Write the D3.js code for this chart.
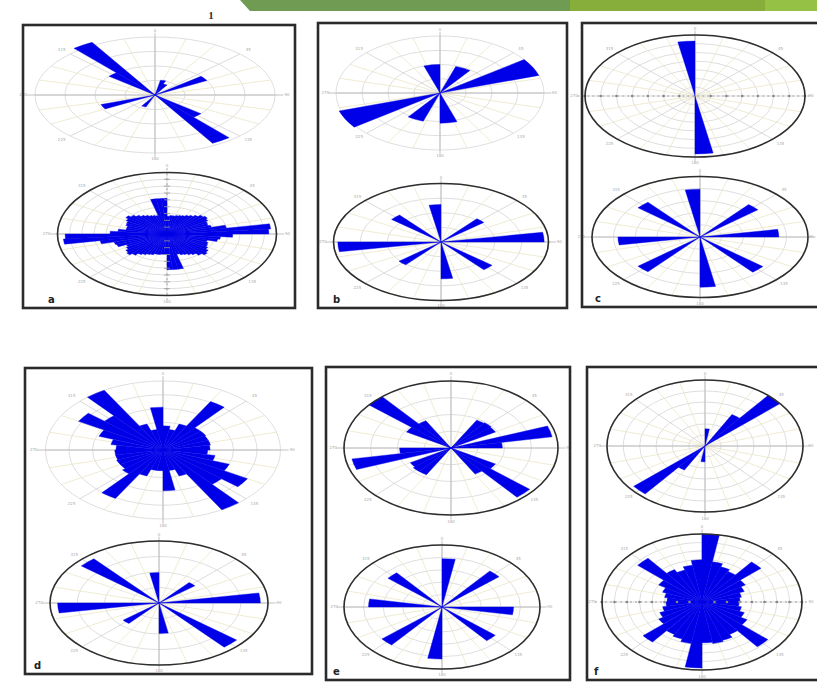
<!DOCTYPE html>
<html>
<head>
<meta charset="utf-8">
<script src="https://cdn.jsdelivr.net/npm/d3@7"></script>
<style>
  body { margin: 0; background: #fff; }
  svg { display: block; }
</style>
</head>
<body>
<div id="chart"></div>
<script>
// rose histograms: values per bin, bins run clockwise from north,
// bin width = 360 / length. 1 = outer grid ring.
const aTop = [0, 0.26, 0.2, 0, 0, 0.5, 0, 0, 0, 0, 0, 0, 0, 0.5, 0.96, 0, 0, 0,
              0, 0, 0.22, 0, 0, 0, 0.48, 0, 0, 0, 0, 0, 0, 0.5, 1.05, 0, 0, 0];
const aBottom = [0.29, 0.30, 0.30, 0.31, 0.32, 0.33, 0.35, 0.37, 0.40, 0.43, 0.45, 0.43,
                 0.41, 0.40, 0.42, 0.55, 0.95, 0.93, 0.60, 0.49, 0.47, 0.38, 0.40, 0.41,
                 0.43, 0.46, 0.48, 0.45, 0.41, 0.39, 0.37, 0.36, 0.34, 0.58, 0.58, 0.58,
                 0.33, 0.33, 0.34, 0.34, 0.36, 0.37, 0.39, 0.41, 0.45, 0.48, 0.46, 0.43,
                 0.41, 0.49, 0.50, 0.62, 0.95, 0.93, 0.52, 0.45, 0.38, 0.38, 0.40, 0.41,
                 0.43, 0.46, 0.43, 0.40, 0.37, 0.35, 0.33, 0.32, 0.31, 0.58, 0.58, 0.58];
const bTop = [0, 0.49, 0, 1.0, 0, 0, 0, 0, 0, 0.53, 0, 0.52, 0, 1.02, 0, 0, 0, 0, 0, 0.5];
const bBottom = [0, 0, 0, 0, 0.52, 0, 0, 0, 0.96, 0, 0, 0, 0, 0.62, 0, 0, 0, 0.63,
                 0, 0, 0, 0, 0.51, 0, 0, 0, 0.96, 0, 0, 0, 0, 0.6, 0, 0, 0, 0.64];
const cTop = [0, 0, 0, 0, 0, 0, 0, 0, 0, 0, 0, 0, 0, 0, 0, 0, 0, 0.95,
              0, 0, 0, 0, 0, 0, 0, 0, 0, 0, 0, 0, 0, 0, 0, 0, 0, 0.9];
const cBottom = [0, 0, 0, 0, 0.7, 0, 0, 0, 0.73, 0, 0, 0, 0, 0.76, 0, 0, 0, 0.83,
                 0, 0, 0, 0, 0.75, 0, 0, 0, 0.76, 0, 0, 0, 0, 0.75, 0, 0, 0, 0.79];
const dTop = [0.35, 0.3, 0.4, 0.81, 0.42, 0.42, 0.41, 0.41, 0.4, 0.38, 0.45, 0.6,
              0.83, 0.65, 1.0, 0.4, 0.3, 0.59, 0.3, 0.3, 0.4, 0.81, 0.45, 0.42,
              0.42, 0.41, 0.41, 0.4, 0.45, 0.58, 0.83, 0.65, 1.0, 0.4, 0.3, 0.62];
const dBottom = [0, 0, 0, 0, 0.43, 0, 0, 0, 0.93, 0, 0, 0, 0, 0.93, 0, 0, 0, 0.49,
                 0, 0, 0, 0, 0.43, 0, 0, 0, 0.93, 0, 0, 0, 0, 0.93, 0, 0, 0, 0.49];
const eTop = [0, 0, 0, 0.48, 0.49, 0.48, 0, 0.96, 0.48, 0, 0, 0, 0.48, 0.96, 0.45, 0, 0, 0,
              0, 0, 0, 0.46, 0.46, 0.44, 0, 0.94, 0.48, 0, 0, 0, 0.48, 1.0, 0.47, 0, 0, 0];
const eBottom = [0.78, 0, 0, 0, 0.76, 0, 0, 0, 0, 0.73, 0, 0, 0, 0.71, 0, 0, 0, 0,
                 0.84, 0, 0, 0, 0.8, 0, 0, 0, 0, 0.75, 0, 0, 0, 0.72, 0, 0, 0, 0];
const fTop = [0.26, 0, 0, 0.55, 1.0, 0, 0, 0, 0, 0, 0, 0, 0, 0, 0, 0, 0, 0,
              0.24, 0, 0, 0.42, 0.95, 0, 0, 0, 0, 0, 0, 0, 0, 0, 0, 0, 0, 0];
const fBottom = [1.0, 0.6, 0.55, 0.52, 0.77, 0.5, 0.45, 0.4, 0.38, 0.37, 0.4, 0.45,
                 0.52, 0.86, 0.55, 0.6, 0.62, 0.6, 0.97, 0.62, 0.58, 0.55, 0.77, 0.5,
                 0.45, 0.4, 0.36, 0.35, 0.38, 0.42, 0.5, 0.84, 0.55, 0.5, 0.55, 0.62];

const panelLetters = ["a", "b", "c", "d", "e", "f"];
const angleLabels = [0, 45, 90, 135, 180, 225, 270, 315];

// layout
const boxes = [
  {x: 23, y: 25, w: 272, h: 283, lx: 48},
  {x: 318, y: 23, w: 249, h: 285, lx: 333},
  {x: 582, y: 23, w: 250, h: 284, lx: 595},
  {x: 25, y: 368, w: 287, h: 306, lx: 34},
  {x: 326, y: 367, w: 244, h: 313, lx: 333},
  {x: 587, y: 367, w: 250, h: 313, lx: 594}
];
const roses = [
  {data: aTop,    cx: 155, cy: 95,  rx: 120,   ry: 58,   rings: 4, outline: false},
  {data: aBottom, cx: 167, cy: 234, rx: 109.5, ry: 61.5, rings: 9, outline: true, ticks: "v"},
  {data: bTop,    cx: 440, cy: 93,  rx: 104,   ry: 57,   rings: 4, outline: false},
  {data: bBottom, cx: 441, cy: 242, rx: 107.5, ry: 58.5, rings: 4, outline: true},
  {data: cTop,    cx: 695, cy: 96,  rx: 110,   ry: 61,   rings: 7, outline: true, ticks: "h"},
  {data: cBottom, cx: 700, cy: 237, rx: 108,   ry: 60.5, rings: 5, outline: true},
  {data: dTop,    cx: 163, cy: 450, rx: 117.5, ry: 69,   rings: 5, outline: false},
  {data: dBottom, cx: 159, cy: 603, rx: 109,   ry: 62,   rings: 4, outline: true},
  {data: eTop,    cx: 451, cy: 448, rx: 107,   ry: 67,   rings: 4, outline: true},
  {data: eBottom, cx: 442, cy: 607, rx: 98,    ry: 62,   rings: 5, outline: true},
  {data: fTop,    cx: 705, cy: 446, rx: 98,    ry: 66,   rings: 6, outline: true},
  {data: fBottom, cx: 702, cy: 602, rx: 100,   ry: 68,   rings: 8, outline: true, ticks: "h"}
];

const svg = d3.select("#chart").append("svg")
    .attr("width", 817)
    .attr("height", 683);

// green slide banner at the top
svg.append("polygon").attr("points", "240,0 570,0 570,11 250,11").attr("fill", "#6f9b52");
svg.append("polygon").attr("points", "570,0 765,0 765,11 570,11").attr("fill", "#87ae3b");
svg.append("polygon").attr("points", "765,0 817,0 817,11 765,11").attr("fill", "#95c245");
svg.append("text").attr("x", 211).attr("y", 19)
    .attr("text-anchor", "middle")
    .style("font-family", "Liberation Serif")
    .style("font-size", "11px")
    .style("font-weight", "bold")
    .attr("fill", "#333")
    .text("1");

const rad = d => d * Math.PI / 180;

roses.forEach(rs => {
  const k = rs.ry / rs.rx;
  const r = d3.scaleLinear().domain([0, 1]).range([0, rs.rx]);
  const g = svg.append("g").attr("transform", "translate(" + rs.cx + "," + rs.cy + ")");
  const gs = g.append("g").attr("transform", "scale(1," + k + ")");

  // rings
  const ringVals = d3.range(1, rs.rings + 1).map(i => i / rs.rings);
  gs.selectAll(".ring").data(ringVals).enter().append("circle")
      .attr("class", "ring")
      .attr("r", d => r(d))
      .attr("fill", "none")
      .attr("stroke", "#d6d6d6")
      .attr("stroke-width", 0.8)
      .attr("vector-effect", "non-scaling-stroke");

  // spokes
  gs.selectAll(".spoke").data(d3.range(0, 360, 15)).enter().append("line")
      .attr("class", "spoke")
      .attr("x2", d => r(1) * Math.sin(rad(d)))
      .attr("y2", d => -r(1) * Math.cos(rad(d)))
      .attr("stroke", d => d % 45 === 0 ? "#d2d2d2" : "#ebe6c8")
      .attr("stroke-width", 0.8)
      .attr("vector-effect", "non-scaling-stroke");

  // main axes
  gs.append("line").attr("x1", -r(1.07)).attr("x2", r(1.07))
      .attr("stroke", rs.ticks === "h" ? "#999" : "#bbb")
      .attr("stroke-dasharray", rs.ticks === "h" ? "2,3" : null)
      .attr("stroke-width", 0.9).attr("vector-effect", "non-scaling-stroke");
  gs.append("line").attr("y1", -r(1.07)).attr("y2", r(1.07))
      .attr("stroke", rs.ticks === "v" ? "#999" : "#bbb")
      .attr("stroke-dasharray", rs.ticks === "v" ? "2,3" : null)
      .attr("stroke-width", 0.9).attr("vector-effect", "non-scaling-stroke");

  // petals
  const w = 360 / rs.data.length;
  const bins = rs.data.map((v, i) => ({start: i * w, end: (i + 1) * w, value: v}))
      .filter(d => d.value > 0);
  const arc = d3.arc()
      .innerRadius(0)
      .outerRadius(d => r(d.value))
      .startAngle(d => rad(d.start))
      .endAngle(d => rad(d.end));
  gs.selectAll(".petal").data(bins).enter().append("path")
      .attr("class", "petal")
      .attr("d", arc)
      .attr("fill", "#0000e8")
      .attr("stroke", "#0000e8")
      .attr("stroke-width", 0.4)
      .attr("vector-effect", "non-scaling-stroke");

  // ring ticks along an axis
  if (rs.ticks === "h") {
    const tv = ringVals.flatMap(v => [v, -v]);
    g.selectAll(".tick").data(tv).enter().append("circle")
        .attr("cx", d => r(d)).attr("cy", 0).attr("r", 1.3).attr("fill", "#888");
  } else if (rs.ticks === "v") {
    const tv = ringVals.flatMap(v => [v, -v]);
    g.selectAll(".tick").data(tv).enter().append("line")
        .attr("x1", -3).attr("x2", 3)
        .attr("y1", d => r(d) * k).attr("y2", d => r(d) * k)
        .attr("stroke", "#999").attr("stroke-width", 0.8);
  }

  // outer outline
  if (rs.outline) {
    g.append("ellipse")
        .attr("rx", r(1)).attr("ry", r(1) * k)
        .attr("fill", "none")
        .attr("stroke", "#2e2e2e")
        .attr("stroke-width", 1.6);
  }

  // angle labels (kept inside the page)
  g.selectAll(".alab").data(angleLabels).enter().append("text")
      .attr("x", d => Math.min(r(1.1) * Math.sin(rad(d)), 817 - rs.cx - 6))
      .attr("y", d => -r(1.1) * k * Math.cos(rad(d)))
      .attr("text-anchor", "middle")
      .attr("dominant-baseline", "middle")
      .style("font-family", "DejaVu Sans")
      .style("font-size", "4px")
      .attr("fill", "#aaa")
      .text(d => d);
});

// panel frames and letters
svg.selectAll(".box").data(boxes).enter().append("rect")
    .attr("x", d => d.x).attr("y", d => d.y)
    .attr("width", d => d.w).attr("height", d => d.h)
    .attr("fill", "none")
    .attr("stroke", "#2b2b2b")
    .attr("stroke-width", 2.6);

svg.selectAll(".letter").data(boxes).enter().append("text")
    .attr("x", d => d.lx)
    .attr("y", d => d.y + d.h - 5)
    .style("font-family", "DejaVu Sans")
    .style("font-size", "10px")
    .style("font-weight", "bold")
    .attr("fill", "#222")
    .text((d, i) => panelLetters[i]);
</script>
</body>
</html>
